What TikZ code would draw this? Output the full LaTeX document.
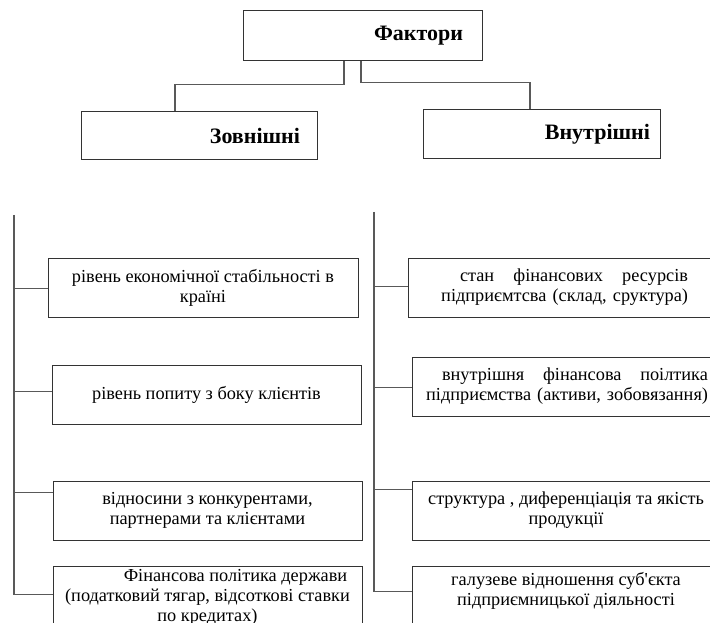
\documentclass[tikz,border=0pt]{standalone}
\usepackage{fontspec}
\setmainfont{Liberation Serif}
\begin{document}
\begin{tikzpicture}[x=1pt,y=-1pt,
  head/.style={draw=black!80,line width=1pt,inner ysep=0pt,align=right,
    font=\bfseries\fontsize{22}{24}\selectfont},
  box/.style={draw=black!80,line width=1pt,inner sep=0pt,align=center,
    font=\fontsize{18.3}{20}\selectfont},
  link/.style={draw=black!65,line width=1.2pt}]
\clip (0,0) rectangle (710,623);

\node[head,minimum height=50pt,inner xsep=19pt,text width=201pt] (fak) at (362.5,36) {Фактори};
\node[head,minimum height=48pt,inner xsep=17pt,text width=202pt] (zov) at (199,136) {Зовнішні};
\node[head,minimum height=49pt,inner xsep=10pt,text width=217pt] (vnu) at (541.5,134.5) {Внутрішні};

\draw[link] ([xshift=-18.5pt]fak.south) -- ++(0,23) -| ([xshift=-24pt]zov.north);
\draw[link] ([xshift=-1.5pt]fak.south) -- ++(0,21) -| ([xshift=-11.5pt]vnu.north);

% left column
\node[box,minimum width=310pt,minimum height=59pt] (l1) at (203,287.5)
  {рівень економічної стабільності в\\країні};
\node[box,minimum width=309pt,minimum height=59pt] (l2) at (206.5,394.5)
  {рівень попиту з боку клієнтів};
\node[box,minimum width=309pt,minimum height=59pt] (l3) at (207.5,510.5)
  {відносини з конкурентами,\\партнерами та клієнтами};
\node[box,minimum width=309pt,minimum height=62pt] (l4) at (207.5,597)
  {\hspace*{56pt}Фінансова політика держави\\(податковий тягар, відсоткові ставки\\по кредитах)};

% right column
\node[box,minimum width=312pt,minimum height=59pt,align=right,inner xsep=32pt,text width=248pt] (r1) at (564,287.5)
  {\makebox[228pt]{стан\hfill фінансових\hfill ресурсів}\\підприємтсва (склад, сруктура)};
\node[box,minimum width=308pt,minimum height=59pt,align=right,inner xsep=12pt,text width=284pt] (r2) at (566,386.5)
  {\makebox[266pt]{внутрішня\hfill фінансова\hfill поілтика}\\підприємства (активи, зобовязання)};
\node[box,minimum width=308pt,minimum height=59pt] (r3) at (566,510.5)
  {структура , диференціація та якість\\продукції};
\node[box,minimum width=308pt,minimum height=64pt] (r4) at (566,598) {};
\node[font=\fontsize{18.3}{20}\selectfont,align=center,inner sep=0pt] (r4t) at (566,591)
  {галузеве відношення суб\textquotesingle єкта\\підприємницької діяльності};

\coordinate (ltop) at (14,215);
\coordinate (rtop) at (374,212);
\foreach \b/\d in {l1/31,l2/27,l3/12,l4/29,r1/29,r2/31,r3/9,r4/26}
  \coordinate (\b-in) at ([yshift=-\d pt]\b.north west);
\draw[link] (ltop) |- (l4-in);
\draw[link] (rtop) |- (r4-in);
\foreach \b in {l1,l2,l3}
  \draw[link] (ltop |- \b-in) -- (\b-in);
\foreach \b in {r1,r2,r3}
  \draw[link] (rtop |- \b-in) -- (\b-in);
\end{tikzpicture}
\end{document}
